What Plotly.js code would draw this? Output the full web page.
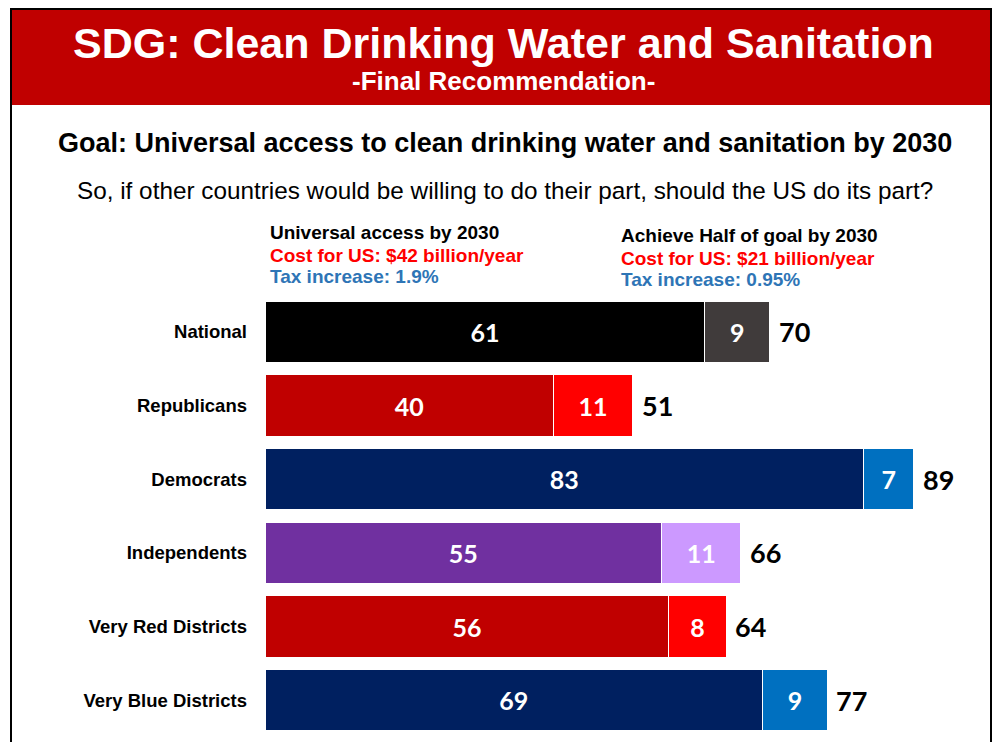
<!DOCTYPE html>
<html><head><meta charset="utf-8">
<script src="https://cdn.plot.ly/plotly-3.0.1.min.js"></script>
<style>html,body{margin:0;padding:0;background:#fff}#c{width:1000px;height:742px}</style>
</head><body><div id="c"></div>
<script>
const categories = ["National","Republicans","Democrats","Independents","Very Red Districts","Very Blue Districts"];
const universal = [61,40,83,55,56,69];
const half = [9,11,7,11,8,9];
const totals = [70,51,89,66,64,77];
const universalColors = ["#000000","#c00000","#002060","#7030a0","#c00000","#002060"];
const halfColors = ["#403b3b","#ff0000","#0070c0","#cc99ff","#ff0000","#0070c0"];

const L = 265, R = 986, T = 295, B = 737;
const W = 1000, H = 742;
const px = x => (x - L) / (R - L);
const py = y => (B - y) / (B - T);

const barFont = {family: "Lato, 'Open Sans', sans-serif", size: 25, color: "#ffffff", weight: 700};

const traces = [
  {type: "bar", orientation: "h", y: categories, x: universal,
   marker: {color: universalColors, line: {color: "#ffffff", width: 1}},
   text: universal.map(String), textposition: "inside", insidetextanchor: "middle",
   textfont: barFont, hoverinfo: "skip", cliponaxis: false},
  {type: "bar", orientation: "h", y: categories, x: half,
   marker: {color: halfColors, line: {color: "#ffffff", width: 1}},
   text: half.map(String), textposition: "inside", insidetextanchor: "middle",
   textfont: barFont, hoverinfo: "skip", cliponaxis: false}
];

const annotations = [];
categories.forEach((c, i) => {
  annotations.push({x: universal[i] + half[i], y: c, xref: "x", yref: "y", text: String(totals[i]),
    showarrow: false, xanchor: "left", xshift: 7,
    font: {family: "Lato, 'Open Sans', sans-serif", size: 27, color: "#000000", weight: 700}});
});
const txt = (x, y, text, size, color, bold, anchor) => ({
  xref: "paper", yref: "paper", x: px(x), y: py(y), text: text, showarrow: false,
  xanchor: anchor || "center", yanchor: "middle",
  font: {family: "'Liberation Sans', Arial, sans-serif", size: size, color: color, weight: bold ? 700 : 400}
});
annotations.push(txt(503, 43, "SDG: Clean Drinking Water and Sanitation", 43, "#ffffff", true));
annotations.push(txt(503, 81, "-Final Recommendation-", 26, "#ffffff", true));
annotations.push(txt(505, 143, "Goal: Universal access to clean drinking water and sanitation by 2030", 27, "#000000", true));
annotations.push(txt(505, 190, "So, if other countries would be willing to do their part, should the US do its part?", 24.3, "#000000", false));
annotations.push(txt(268, 232, "Universal access by 2030", 19, "#000000", true, "left"));
annotations.push(txt(268, 255, "Cost for US: $42 billion/year", 19, "#ff0000", true, "left"));
annotations.push(txt(268, 277, "Tax increase: 1.9%", 19, "#2e75b6", true, "left"));
annotations.push(txt(619, 235, "Achieve Half of goal by 2030", 19, "#000000", true, "left"));
annotations.push(txt(619, 258, "Cost for US: $21 billion/year", 19, "#ff0000", true, "left"));
annotations.push(txt(619, 280, "Tax increase: 0.95%", 19, "#2e75b6", true, "left"));

const shapes = [
  {type: "rect", xref: "paper", yref: "paper", x0: px(12), x1: px(990), y0: py(10), y1: py(105),
   fillcolor: "#c00000", line: {width: 0}, layer: "below"},
  {type: "rect", xref: "paper", yref: "paper", x0: px(11), x1: px(991), y0: py(9), y1: py(760),
   fillcolor: "rgba(0,0,0,0)", line: {color: "#000000", width: 2}}
];

const layout = {
  width: W, height: H, barmode: "stack", bargap: 0.17, showlegend: false,
  margin: {l: L, r: W - R, t: T, b: H - B, pad: 0},
  paper_bgcolor: "#ffffff", plot_bgcolor: "#ffffff",
  xaxis: {range: [0, 100], visible: false, fixedrange: true},
  yaxis: {autorange: "reversed", showgrid: false, zeroline: false, showline: false, ticks: "",
    ticklabelstandoff: 17,
    tickfont: {family: "'Liberation Sans', Arial, sans-serif", size: 18.5, color: "#000000", weight: 700}},
  annotations: annotations, shapes: shapes
};
Plotly.newPlot("c", traces, layout, {displayModeBar: false, staticPlot: true});
</script></body></html>
